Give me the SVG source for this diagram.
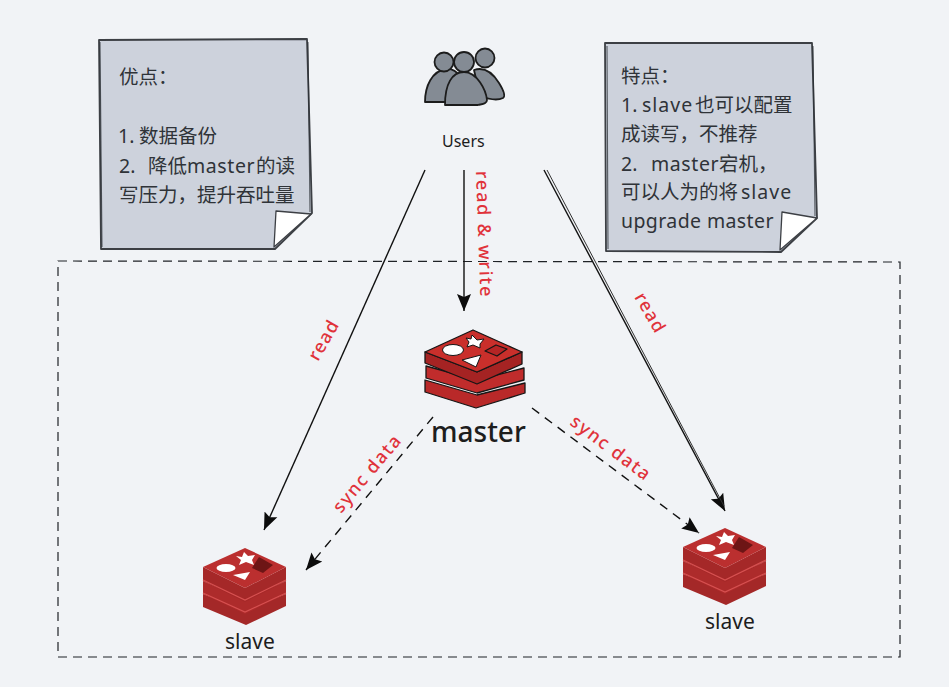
<svg xmlns="http://www.w3.org/2000/svg" width="949" height="687" viewBox="0 0 949 687">
<defs>
<style>
.ink{fill:none;stroke:#1b1b1b;stroke-width:1.4;stroke-linecap:round;stroke-linejoin:round}
.note{fill:#cdd2dc;stroke:#3c3f44;stroke-width:1.8;stroke-linejoin:round}
.fold{fill:#fff;stroke:#3c3f44;stroke-width:1.3;stroke-linejoin:round}
.edge{fill:none;stroke:#2b3035;stroke-width:1.1;opacity:.75}
.t{font-family:"Noto Sans","Noto Sans CJK SC",sans-serif;font-size:19.5px;fill:#2f3338}
.lbl{font-family:"Noto Sans","Noto Sans CJK SC",sans-serif;fill:#1d1d1d}
.red{font-family:"Noto Sans",sans-serif;font-size:18px;font-weight:500;fill:#e0323a}
.solid{fill:none;stroke:#111;stroke-width:1.4}
.thin{fill:none;stroke:#333;stroke-width:1}
.dash{fill:none;stroke:#111;stroke-width:1.4;stroke-dasharray:9 7}
.p{fill:#848b94;stroke:#1c1c1c;stroke-width:1.8;stroke-linejoin:round}
.l{stroke:#161616;stroke-width:1.3;stroke-linejoin:round}
</style>
<marker id="arr" markerUnits="userSpaceOnUse" markerWidth="18" markerHeight="18" viewBox="0 0 18 18" refX="17" refY="9" orient="auto"><path d="M0 2L17 9L0 16L3 9z" fill="#0c0c0c"/></marker>
<g id="slaveIcon">
<path d="M-42 27L-42 40L1 58L41 39L41 27L0 44z" fill="#a42828"/>
<path d="M-42 14L-42 27L0 47L41 27L41 14L0 33z" fill="#ad2b2b"/>
<path d="M-42 0L-42 14L0 35L41 14L41 0L0 21z" fill="#a52828"/>
<path d="M-42 0L0 -19L41 0L0 21z" fill="#bb2f2f"/>
<path d="M-42 13L0 33L41 13M-42 26L0 45L41 26" fill="none" stroke="#d65050" stroke-width="1.2"/>
<ellipse cx="-19" cy="1" rx="9.500" ry="4" fill="#fff"/>
<path d="M-1 -15L3 -11L10 -12L7 -7L9 -2L1 -5L-6 -2L-4 -7L-9 -11L-3 -10z" fill="#fff"/>
<path d="M-12 8L5 5L0 13z" fill="#fff"/>
<path d="M14 -10L28 -2L18 6L7 1z" fill="#6d1515"/>
</g>
</defs>
<rect width="949" height="687" fill="#f1f3f6"/>

<g id="container"><path d="M58 261L900 262L900 657L58 657z" fill="none" stroke="#1f2226" stroke-width="1.2" stroke-dasharray="9 6"/></g>

<g id="note-left">
<path class="note" d="M99 40L307 39L312 213L275 249L101 249z"/>
<path class="edge" d="M308 42L310 212M100 42L102 247"/>
<path class="fold" d="M276 211L311 214L274 247z"/>
<text class="t" x="119" y="84">优点：</text>
<text class="t" y="143"><tspan x="118">1.</tspan><tspan x="139">数据备份</tspan></text>
<text class="t" y="173"><tspan x="119">2.</tspan><tspan x="148">降低</tspan><tspan x="187" letter-spacing=".6">master</tspan><tspan x="256">的读</tspan></text>
<text class="t" x="119" y="202">写压力，提升吞吐量</text>
</g>

<g id="note-right">
<path class="note" d="M605 43L812 43L817 218L781 252L606 251z"/>
<path class="edge" d="M813 46L815 216M607 46L608 249"/>
<path class="fold" d="M782 212L817 218L780 250z"/>
<text class="t" x="621" y="83">特点：</text>
<text class="t" y="112"><tspan x="621">1.</tspan><tspan x="642" letter-spacing="1">slave</tspan><tspan x="695">也可以配置</tspan></text>
<text class="t" x="621" y="141">成读写，不推荐</text>
<text class="t" y="171"><tspan x="621">2.</tspan><tspan x="651" letter-spacing=".6">master</tspan><tspan x="719">宕机，</tspan></text>
<text class="t" y="199"><tspan x="621">可以人为的将</tspan><tspan x="741" letter-spacing="1">slave</tspan></text>
<text class="t" y="228" x="621" letter-spacing=".4">upgrade master</text>
</g>

<g id="users">
<path class="p" d="M425 102C425 86 432 71 446 69C456 68 464 76 468 100L466 102z"/>
<path class="p" d="M474 70C486 66 494 75 499 83C504 91 506 96 503 98C497 101 488 99 480 96z"/>
<circle class="p" cx="444" cy="62" r="9.500"/>
<circle class="p" cx="485" cy="58" r="9.500"/>
<path class="p" d="M445 105C445 84 452 72 464 72C477 72 486 90 487 100C487 104 482 104 478 105z"/>
<circle class="p" cx="464" cy="62" r="10"/>
<text class="lbl" x="442" y="147" font-size="16">Users</text>
</g>

<g id="master">
<path class="l" d="M425 380L425 392L476 408L525 393L525 383L477 395z" fill="#b92929"/>
<path class="l" d="M426 366L426 378L477 393L524 380L524 368L477 380z" fill="#c02c2c"/>
<path class="l" d="M425 352L425 363L477 384L522 364L522 352L477 372z" fill="#a52323"/>
<path class="l" d="M425 352L473 330L522 352L477 372z" fill="#c92f2b"/>
<ellipse cx="453" cy="350" rx="10.500" ry="5.500" fill="#fff" stroke="#161616"/>
<path d="M472 335L477 340L484 339L480 344L480 348L473 345L467 347L469 342L466 338L471 339z" fill="#fff" stroke="#161616" stroke-width="1"/>
<path d="M462 360L481 355L476 367z" fill="#fff" stroke="#161616"/>
<path class="l" d="M496 345L507 349L497 356L485 351z" fill="#b52525"/>
<text class="lbl" x="431" y="442" font-size="28" font-weight="500">master</text>
</g>

<g id="slave-left">
<use href="#slaveIcon" x="245" y="567"/>
<text class="lbl" x="225" y="649" font-size="21">slave</text>
</g>
<g id="slave-right">
<use href="#slaveIcon" x="725" y="547"/>
<text class="lbl" x="705" y="629" font-size="21">slave</text>
</g>

<g id="connectors">
<path class="solid" d="M464 170L464 311" marker-end="url(#arr)"/>
<path class="solid" d="M425 170L264 530" marker-end="url(#arr)"/>
<path class="solid" d="M544 170L725 511" marker-end="url(#arr)"/>
<path class="thin" d="M547 170L724 506"/>
<path class="dash" d="M433 417L306 570" marker-end="url(#arr)"/>
<path class="dash" d="M532 408L699 533" marker-end="url(#arr)"/>
<text class="red" letter-spacing="1.8" transform="translate(476 171) rotate(88)">read &amp; write</text>
<text class="red" letter-spacing="1.2" transform="translate(318 362) rotate(-60)">read</text>
<text class="red" letter-spacing="1.2" transform="translate(634 297) rotate(60)">read</text>
<text class="red" letter-spacing="1.6" transform="translate(341 514) rotate(-50)">sync data</text>
<text class="red" letter-spacing="1.6" transform="translate(569 424) rotate(37)">sync data</text>
</g>
</svg>
